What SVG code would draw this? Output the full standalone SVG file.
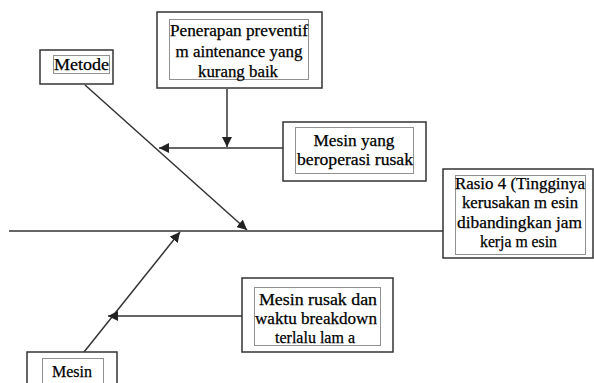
<svg xmlns="http://www.w3.org/2000/svg" width="594" height="383" viewBox="0 0 594 383">
<style>
.box{fill:#fff;stroke:#333;stroke-width:1.5}
.dot{fill:none;stroke:#222;stroke-width:1;stroke-dasharray:1 1}
.t{font-family:"Liberation Serif","Times New Roman",serif;font-size:16px;fill:#000;stroke:#000;stroke-width:0.25;text-anchor:middle}
.ln{stroke:#333;stroke-width:1.5;fill:none}
</style>
<defs>
<marker id="ah" viewBox="0 0 10 10" refX="10" refY="5" markerWidth="10" markerHeight="10" markerUnits="userSpaceOnUse" orient="auto">
<path d="M0,0 L10,5 L0,10 z" fill="#222"/>
</marker>
</defs>
<rect width="594" height="383" fill="#fff"/>
<g id="connectors">
<line class="ln" x1="9" y1="231" x2="443" y2="231"/>
<line class="ln" x1="85" y1="85" x2="247" y2="230" marker-end="url(#ah)"/>
<line class="ln" x1="84" y1="352" x2="180" y2="232" marker-end="url(#ah)"/>
<line class="ln" x1="283" y1="148" x2="159" y2="148" marker-end="url(#ah)"/>
<line class="ln" x1="227" y1="89" x2="227" y2="147" marker-end="url(#ah)"/>
<line class="ln" x1="242" y1="316" x2="108" y2="316" marker-end="url(#ah)"/>
</g>
<g id="penerapan">
<rect class="box" x="157" y="12" width="165" height="76"/>
<rect class="dot" x="169.5" y="19.5" width="139" height="60"/>
<text class="t" x="239" y="36" textLength="138" lengthAdjust="spacingAndGlyphs">Penerapan preventif</text>
<text class="t" x="239" y="57" textLength="127" lengthAdjust="spacingAndGlyphs">m aintenance yang</text>
<text class="t" x="238" y="77" textLength="80" lengthAdjust="spacingAndGlyphs">kurang baik</text>
</g>
<g id="metode">
<rect class="box" x="40" y="50" width="73" height="34"/>
<rect class="dot" x="53.5" y="55.5" width="56" height="18"/>
<text class="t" x="81.5" y="70" textLength="55" lengthAdjust="spacingAndGlyphs">Metode</text>
</g>
<g id="mesin-yang">
<rect class="box" x="283" y="122" width="143" height="59"/>
<rect class="dot" x="295.5" y="127.5" width="118" height="46"/>
<text class="t" x="354" y="146" textLength="81" lengthAdjust="spacingAndGlyphs">Mesin yang</text>
<text class="t" x="355" y="165" textLength="116" lengthAdjust="spacingAndGlyphs">beroperasi rusak</text>
</g>
<g id="rasio">
<rect class="box" x="443" y="169" width="150" height="89"/>
<rect class="dot" x="455.5" y="175.5" width="130" height="79"/>
<text class="t" x="520" y="189" textLength="130" lengthAdjust="spacingAndGlyphs">Rasio 4 (Tingginya</text>
<text class="t" x="520" y="208" textLength="116" lengthAdjust="spacingAndGlyphs">kerusakan m esin</text>
<text class="t" x="519.5" y="227.5" textLength="125" lengthAdjust="spacingAndGlyphs">dibandingkan jam</text>
<text class="t" x="518.5" y="246.5" textLength="77" lengthAdjust="spacingAndGlyphs">kerja m esin</text>
</g>
<g id="mesin-rusak">
<rect class="box" x="242" y="278" width="151" height="74"/>
<rect class="dot" x="254.5" y="287.5" width="126" height="58"/>
<text class="t" x="318" y="305" textLength="118" lengthAdjust="spacingAndGlyphs">Mesin rusak dan</text>
<text class="t" x="316" y="324" textLength="122" lengthAdjust="spacingAndGlyphs">waktu breakdown</text>
<text class="t" x="315" y="343" textLength="80" lengthAdjust="spacingAndGlyphs">terlalu lam a</text>
</g>
<g id="mesin">
<rect class="box" x="27" y="352" width="90" height="40"/>
<rect class="dot" x="42.5" y="358.5" width="61" height="30"/>
<text class="t" x="72" y="377" textLength="40" lengthAdjust="spacingAndGlyphs">Mesin</text>
</g>
</svg>
